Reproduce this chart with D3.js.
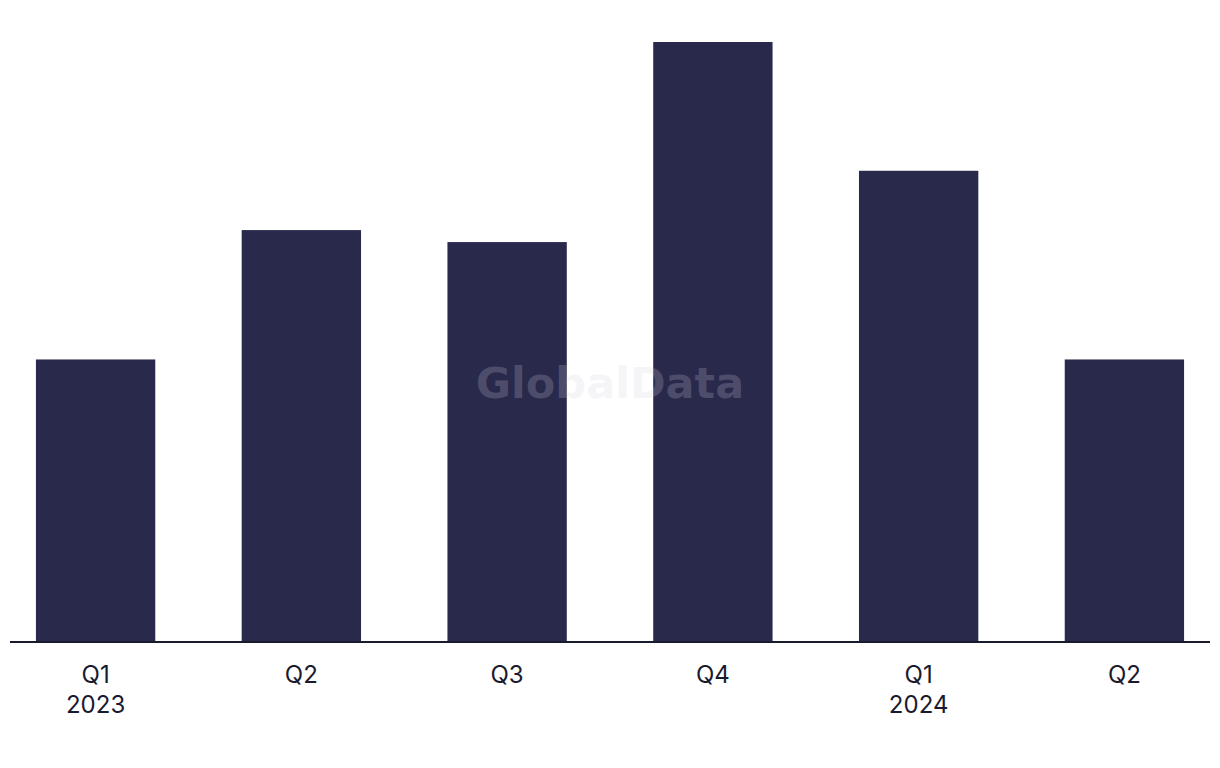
<!DOCTYPE html>
<html>
<head>
<meta charset="utf-8">
<script src="https://d3js.org/d3.v7.min.js"></script>
<style>
  html, body { margin: 0; padding: 0; background: #ffffff; }
  svg { display: block; }
</style>
</head>
<body>
<div id="chart"></div>
<script>
// data
var quarters = ["Q1", "Q2", "Q3", "Q4", "Q1", "Q2"];
var years    = ["2023", "", "", "", "2024", ""];
var values   = [47, 68.6, 66.6, 100, 78.5, 47];

var width = 1220, height = 768;
var margin = {top: 42, right: 10, bottom: 127, left: 10};
var barColor = "#29294b";

var svg = d3.select("#chart").append("svg")
  .attr("width", width)
  .attr("height", height);

var keys = values.map(function(d, i){ return i; });

var x = d3.scaleBand()
  .domain(keys)
  .range([margin.left, width - margin.right])
  .paddingInner(0.42)
  .paddingOuter(0.126);

var y = d3.scaleLinear()
  .domain([0, d3.max(values)])
  .range([height - margin.bottom, margin.top]);

// bars
svg.append("g").selectAll("rect")
  .data(values)
  .enter()
  .append("rect")
    .attr("x", function(d, i){ return x(i); })
    .attr("y", function(d){ return y(d); })
    .attr("width", x.bandwidth())
    .attr("height", function(d){ return y(0) - y(d); })
    .attr("fill", barColor);

// watermark
svg.append("text")
  .attr("x", 610)
  .attr("y", 398)
  .attr("text-anchor", "middle")
  .attr("font-family", "'DejaVu Sans', sans-serif")
  .attr("font-weight", 700)
  .attr("font-size", 43)
  .attr("fill", "#d2d2de")
  .attr("fill-opacity", 0.22)
  .text("GlobalData");

// x axis
var xAxis = svg.append("g")
  .attr("transform", "translate(0," + y(0) + ")")
  .call(d3.axisBottom(x).tickSize(0).tickFormat(""));

xAxis.select(".domain")
  .attr("stroke", "#1a1a2e")
  .attr("stroke-width", 2)
  .attr("d", "M" + margin.left + ",1H" + (width - margin.right));

var labels = svg.append("g").selectAll("text")
  .data(keys)
  .enter()
  .append("text")
    .attr("x", function(i){ return x(i) + x.bandwidth() / 2; })
    .attr("y", y(0) + 42)
    .attr("text-anchor", "middle")
    .attr("font-family", "Inter, 'Noto Sans', sans-serif")
    .attr("font-size", 24)
    .attr("fill", "#1a1a2e");

labels.append("tspan")
  .attr("x", function(i){ return x(i) + x.bandwidth() / 2; })
  .text(function(i){ return quarters[i]; });

labels.append("tspan")
  .attr("x", function(i){ return x(i) + x.bandwidth() / 2; })
  .attr("dy", 30)
  .text(function(i){ return years[i]; });
</script>
</body>
</html>
